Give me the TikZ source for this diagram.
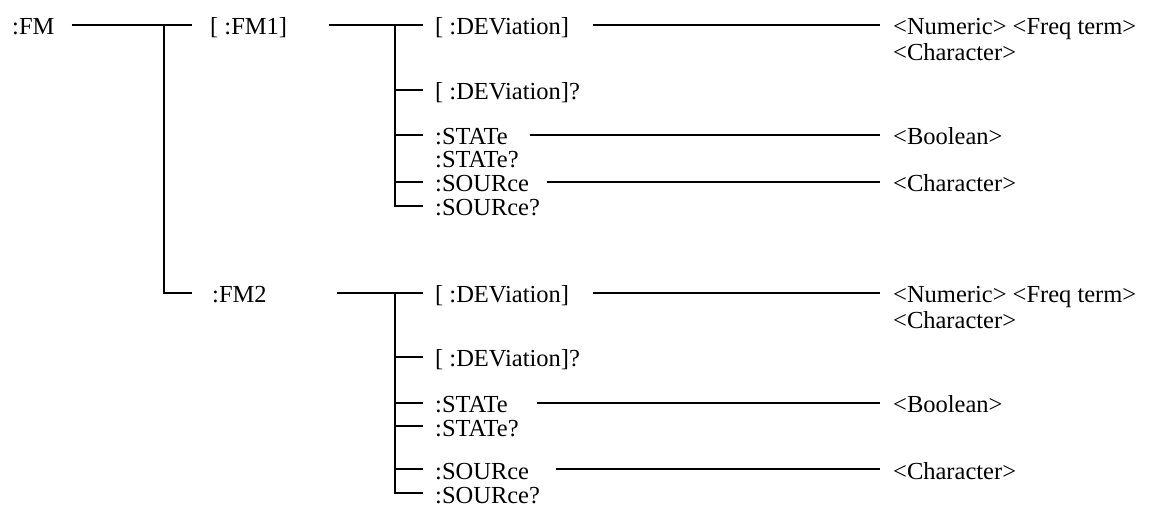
\documentclass[tikz,border=0pt]{standalone}
\usepackage{fontspec}
\setmainfont{Liberation Serif}
\usetikzlibrary{calc}
\begin{document}
\begin{tikzpicture}[x=1pt,y=-1pt,
  lbl/.style={anchor=base west,inner sep=0pt,text height=20pt,text depth=0pt,
    font=\fontsize{24.5}{27}\selectfont},
  wire/.style={line width=1.6pt,line cap=butt}]
\useasboundingbox (0,0) rectangle (1163,529);
% top level
\node[lbl] (fm) at (12,35) {:FM};
\node[lbl] (fm1) at (210,35) {[ :FM1]};
\node[lbl] (fm2) at (212,303) {:FM2};
% FM1 children
\node[lbl] (d1) at (435,35) {[ :DEViation]};
\node[lbl] (dq1) at (435,100) {[ :DEViation]?};
\node[lbl] (s1) at (435,145) {:STATe};
\node[lbl] (sq1) at (435,168) {:STATe?};
\node[lbl] (o1) at (435,192) {:SOURce};
\node[lbl] (oq1) at (435,216) {:SOURce?};
\node[lbl] (n1) at (893,35) {<Numeric> <Freq term>};
\node[lbl] (c1) at (893,61) {<Character>};
\node[lbl] (b1) at (893,145) {<Boolean>};
\node[lbl] (cc1) at (893,192) {<Character>};
% FM2 children
\node[lbl] (d2) at (435,303) {[ :DEViation]};
\node[lbl] (dq2) at (435,367) {[ :DEViation]?};
\node[lbl] (s2) at (435,413) {:STATe};
\node[lbl] (sq2) at (435,436) {:STATe?};
\node[lbl] (o2) at (435,479) {:SOURce};
\node[lbl] (oq2) at (435,503) {:SOURce?};
\node[lbl] (n2) at (893,303) {<Numeric> <Freq term>};
\node[lbl] (c2) at (893,329) {<Character>};
\node[lbl] (b2) at (893,413) {<Boolean>};
\node[lbl] (cc2) at (893,479) {<Character>};
% junctions
\coordinate (j0) at ([xshift=-46pt]fm1.west);
\coordinate (j1) at ([xshift=-40pt]d1.west);
\coordinate (j2) at ([xshift=-40pt]d2.west);
% top connectors
\draw[wire] ([xshift=17pt]fm.east) -- ([xshift=-18pt]fm1.west);
\draw[wire] (j0) |- ([xshift=-20pt]fm2.west);
% FM1 subtree
\draw[wire] ([xshift=42pt]fm1.east) -- ([xshift=-12pt]d1.west);
\draw[wire] (j1) |- ([xshift=-12pt]oq1.west);
\draw[wire] (j1 |- dq1.west) -- ([xshift=-12pt]dq1.west);
\draw[wire] (j1 |- s1.west) -- ([xshift=-12pt]s1.west);
\draw[wire] (j1 |- o1.west) -- ([xshift=-12pt]o1.west);
\draw[wire] ([xshift=24pt]d1.east) -- ([xshift=-13pt]n1.west);
\draw[wire] ([xshift=22pt]s1.east) -- ([xshift=-13pt]b1.west);
\draw[wire] ([xshift=18pt]o1.east) -- ([xshift=-13pt]cc1.west);
% FM2 subtree
\draw[wire] ([xshift=70pt]fm2.east) -- ([xshift=-12pt]d2.west);
\draw[wire] (j2) |- ([xshift=-12pt]oq2.west);
\draw[wire] (j2 |- dq2.west) -- ([xshift=-12pt]dq2.west);
\draw[wire] (j2 |- s2.west) -- ([xshift=-12pt]s2.west);
\draw[wire] (j2 |- sq2.west) -- ([xshift=-12pt]sq2.west);
\draw[wire] (j2 |- o2.west) -- ([xshift=-12pt]o2.west);
\draw[wire] ([xshift=24pt]d2.east) -- ([xshift=-13pt]n2.west);
\draw[wire] ([xshift=29pt]s2.east) -- ([xshift=-13pt]b2.west);
\draw[wire] ([xshift=27pt]o2.east) -- ([xshift=-13pt]cc2.west);
\end{tikzpicture}
\end{document}
